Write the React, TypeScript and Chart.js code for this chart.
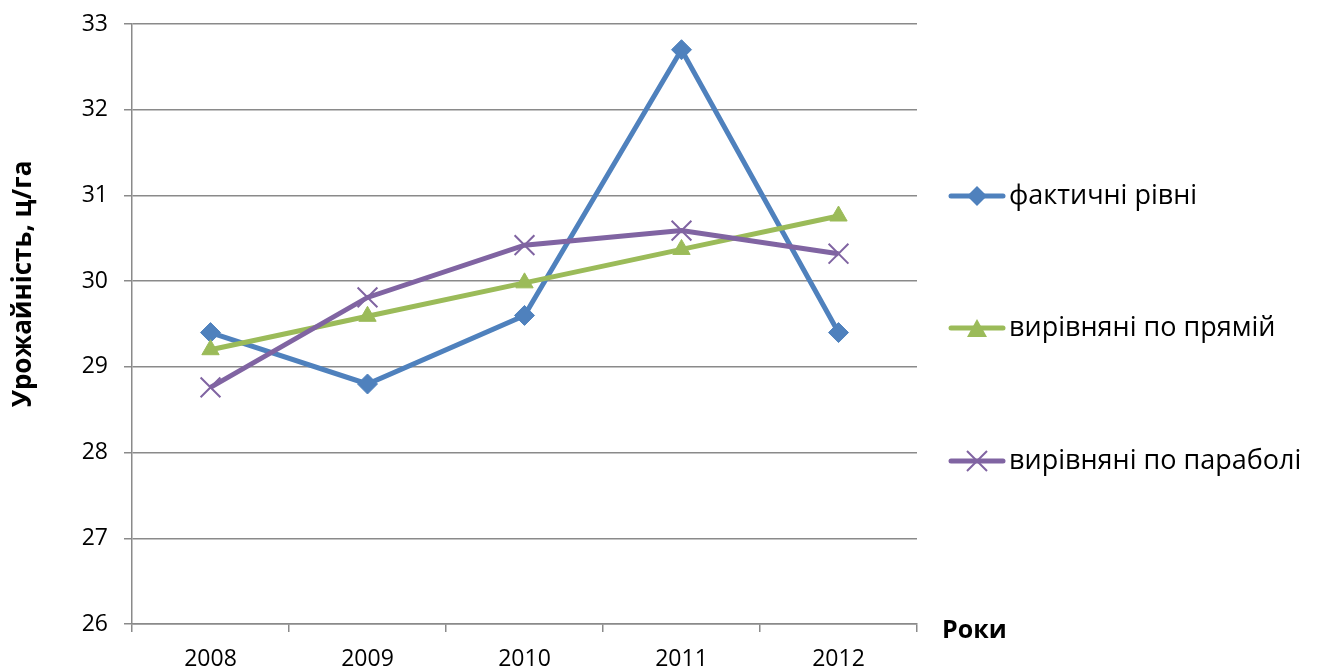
import React, { useEffect, useRef } from "react";
import { Chart, registerables } from "chart.js";

Chart.register(...registerables);

const years = ["2008", "2009", "2010", "2011", "2012"];
const actual = [29.4, 28.8, 29.6, 32.7, 29.4];
const linearTrend = [29.2, 29.59, 29.98, 30.37, 30.76];
const parabolaTrend = [28.76, 29.81, 30.42, 30.59, 30.32];
const seriesNames = ["фактичні рівні", "вирівняні по прямій", "вирівняні по параболі"];
const yAxisTitle = "Урожайність, ц/га";
const xAxisTitle = "Роки";

const BLUE = "#4F81BD";
const GREEN = "#9BBB59";
const PURPLE = "#8064A2";
const GRID = "#8a8a8a";
const FONT = "'Open Sans', sans-serif";

export default function App() {
  const ref = useRef<HTMLCanvasElement | null>(null);

  useEffect(() => {
    const canvas = ref.current;
    if (!canvas) return;

    const extras = {
      id: "extras",
      afterDraw(chart: any) {
        const ctx = chart.ctx;
        ctx.save();
        ctx.fillStyle = "#000";
        ctx.font = `bold 26px ${FONT}`;
        ctx.textAlign = "center";
        ctx.textBaseline = "middle";
        ctx.translate(24, 284);
        ctx.rotate(-Math.PI / 2);
        ctx.fillText(yAxisTitle, 0, 0);
        ctx.restore();

        ctx.save();
        ctx.fillStyle = "#000";
        ctx.font = `bold 25px ${FONT}`;
        ctx.textAlign = "left";
        ctx.textBaseline = "middle";
        ctx.fillText(xAxisTitle, 942, 631);
        ctx.restore();

        const rows = [196, 328, 461];
        const colors = [BLUE, GREEN, PURPLE];
        ctx.save();
        for (let i = 0; i < 3; i++) {
          const y = rows[i];
          const c = colors[i];
          ctx.strokeStyle = c;
          ctx.lineWidth = 5;
          ctx.lineCap = "round";
          ctx.beginPath();
          ctx.moveTo(951, y);
          ctx.lineTo(1003, y);
          ctx.stroke();
          const cx = 977;
          ctx.fillStyle = c;
          ctx.lineCap = "butt";
          if (i === 0) {
            ctx.beginPath();
            ctx.moveTo(cx, y - 10);
            ctx.lineTo(cx + 10, y);
            ctx.lineTo(cx, y + 10);
            ctx.lineTo(cx - 10, y);
            ctx.closePath();
            ctx.fill();
          } else if (i === 1) {
            ctx.beginPath();
            ctx.moveTo(cx, y - 9);
            ctx.lineTo(cx + 10, y + 9);
            ctx.lineTo(cx - 10, y + 9);
            ctx.closePath();
            ctx.fill();
          } else {
            ctx.lineWidth = 2;
            ctx.beginPath();
            ctx.moveTo(cx - 10, y - 10);
            ctx.lineTo(cx + 10, y + 10);
            ctx.moveTo(cx + 10, y - 10);
            ctx.lineTo(cx - 10, y + 10);
            ctx.stroke();
          }
          ctx.fillStyle = "#000";
          ctx.font = `27px ${FONT}`;
          ctx.textAlign = "left";
          ctx.textBaseline = "middle";
          ctx.fillText(seriesNames[i], 1009, y);
        }
        ctx.restore();
      },
    };

    const chart = new Chart(canvas, {
      type: "line",
      data: {
        labels: years,
        datasets: [
          {
            label: seriesNames[0],
            data: actual,
            borderColor: BLUE,
            backgroundColor: BLUE,
            borderWidth: 5,
            pointStyle: "rectRot",
            pointRadius: 10,
            pointBorderWidth: 1,
            order: 3,
          },
          {
            label: seriesNames[1],
            data: linearTrend,
            borderColor: GREEN,
            backgroundColor: GREEN,
            borderWidth: 5,
            pointStyle: "triangle",
            pointRadius: 10,
            pointBorderWidth: 1,
            order: 2,
          },
          {
            label: seriesNames[2],
            data: parabolaTrend,
            borderColor: PURPLE,
            backgroundColor: PURPLE,
            borderWidth: 5,
            pointStyle: "crossRot",
            pointRadius: 14,
            pointBorderWidth: 2,
            order: 1,
          },
        ],
      },
      options: {
        responsive: false,
        animation: false,
        layout: { padding: { top: 24, right: 405, left: 0, bottom: 0 } },
        plugins: { legend: { display: false }, tooltip: { enabled: false } },
        scales: {
          x: {
            offset: true,
            grid: {
              offset: true,
              drawOnChartArea: false,
              drawTicks: true,
              tickLength: 8,
              color: GRID,
              lineWidth: 1.5,
            },
            border: { display: true, color: GRID, width: 1.5 },
            ticks: { color: "#000", font: { family: FONT, size: 23 }, padding: 14 },
            afterFit: (s: any) => {
              s.height = 46;
              s.paddingLeft = 0;
              s.paddingRight = 0;
            },
          },
          y: {
            min: 26,
            max: 33,
            ticks: { stepSize: 1, color: "#000", font: { family: FONT, size: 23 }, padding: 16 },
            grid: { color: GRID, lineWidth: 1.5, tickLength: 8 },
            border: { display: true, color: GRID, width: 1.5 },
            afterFit: (s: any) => {
              s.width = 132;
              s.paddingTop = 0;
              s.paddingBottom = 0;
            },
          },
        },
      },
      plugins: [extras],
    });

    return () => chart.destroy();
  }, []);

  return (
    <div style={{ position: "absolute", left: 0, top: 0, width: 1322, height: 670, background: "#fff" }}>
      <canvas ref={ref} width={1322} height={670} style={{ display: "block" }} />
    </div>
  );
}
